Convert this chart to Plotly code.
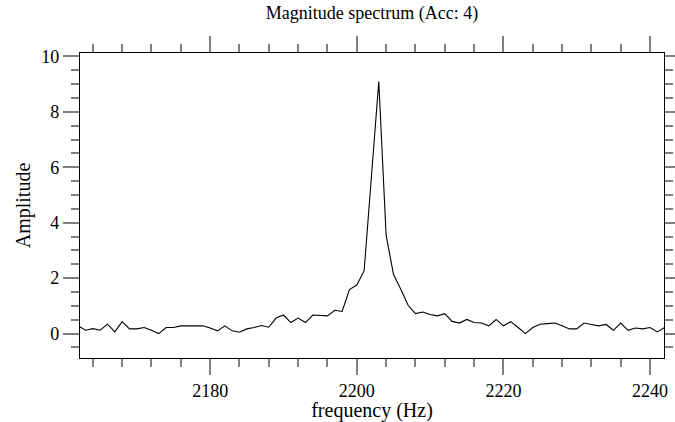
import plotly.graph_objects as go

freq_start = 2162
amplitude = [
    0.28, 0.12, 0.18, 0.12, 0.34, 0.06, 0.43, 0.17, 0.17, 0.22,   # 2162-2171
    0.12, 0.00, 0.22, 0.22, 0.28, 0.28, 0.28, 0.28, 0.20, 0.10,   # 2172-2181
    0.28, 0.10, 0.05, 0.17, 0.22, 0.29, 0.23, 0.56, 0.67, 0.40,   # 2182-2191
    0.56, 0.40, 0.67, 0.66, 0.64, 0.84, 0.80, 1.59, 1.75, 2.26,   # 2192-2201
    5.70, 9.09, 3.55, 2.14, 1.60, 1.02, 0.72, 0.78, 0.69, 0.64,   # 2202-2211
    0.72, 0.44, 0.38, 0.51, 0.40, 0.38, 0.28, 0.51, 0.28, 0.43,   # 2212-2221
    0.22, 0.00, 0.22, 0.34, 0.36, 0.38, 0.28, 0.17, 0.17, 0.38,   # 2222-2231
    0.33, 0.28, 0.33, 0.12, 0.38, 0.12, 0.20, 0.17, 0.22, 0.06,   # 2232-2241
    0.22,                                                          # 2242
]
frequency = [freq_start + i for i in range(len(amplitude))]

title_text = "Magnitude spectrum (Acc: 4)"
x_title = "frequency (Hz)"
y_title = "Amplitude"

font_family = "Liberation Serif, Times New Roman, serif"

fig = go.Figure()
fig.add_trace(go.Scatter(
    x=frequency, y=amplitude, mode="lines",
    line=dict(color="black", width=1.1),
    hoverinfo="skip", showlegend=False,
))

axis_common = dict(
    showline=True, linecolor="black", linewidth=1.3, mirror="ticks",
    ticks="outside", tickcolor="#808080", tickwidth=1.6, ticklen=16,
    showgrid=False, zeroline=False, automargin=False,
    tickfont=dict(family=font_family, size=18, color="black"),
)

fig.update_layout(
    width=675, height=422,
    margin=dict(l=80, r=11, t=53, b=64),
    plot_bgcolor="white", paper_bgcolor="white",
    font=dict(family=font_family, color="black"),
    title=dict(text=title_text, x=0.551, xanchor="center", y=0.985, yanchor="top",
               font=dict(family=font_family, size=18, color="black")),
    xaxis=dict(
        range=[2162.25, 2241.9], dtick=20, tick0=2180,
        minor=dict(dtick=4, tick0=2180, ticks="outside", ticklen=8, tickcolor="#808080", tickwidth=1.6, showgrid=False),
        title=dict(text=x_title, font=dict(family=font_family, size=20, color="black"), standoff=2),
        **axis_common,
    ),
    yaxis=dict(
        range=[-0.88, 10.12], dtick=2, tick0=0,
        minor=dict(dtick=0.5, tick0=0, ticks="outside", ticklen=8, tickcolor="#808080", tickwidth=1.6, showgrid=False),
        title=dict(text=y_title, font=dict(family=font_family, size=20, color="black"), standoff=5),
        **axis_common,
    ),
)

fig.write_html("out.html")
